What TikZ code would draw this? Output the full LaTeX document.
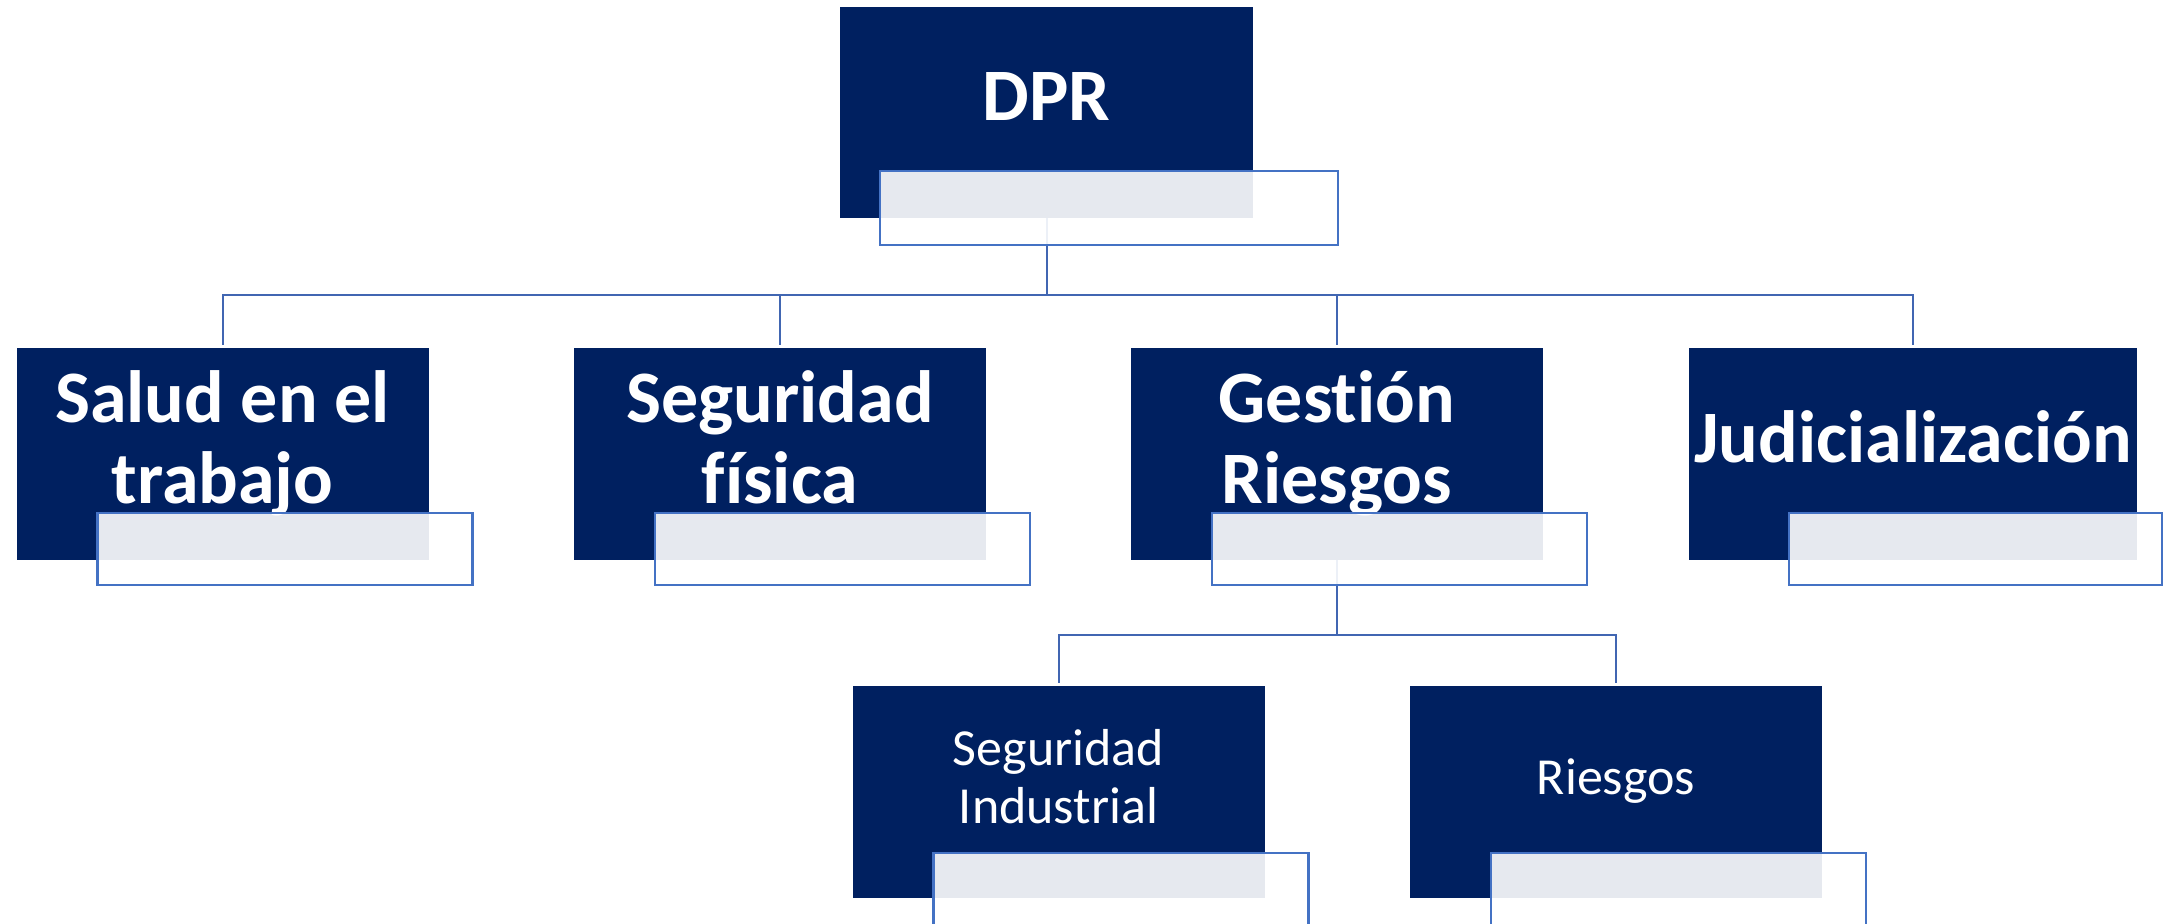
\documentclass[tikz,border=0pt]{standalone}
\usepackage{fontspec}
\setmainfont{Carlito}[Ligatures={NoCommon}]
\definecolor{navy}{HTML}{002060}
\definecolor{boxblue}{HTML}{4472C4}
\definecolor{lineblue}{HTML}{4166B2}
\begin{document}
\begin{tikzpicture}[x=0.5pt,y=-0.5pt,
  darkbox/.style={fill=navy, draw=none, inner sep=0, minimum width=206pt, minimum height=106pt, anchor=center},
  capbox/.style={fill=white, fill opacity=0.9, draw=boxblue, line width=1.25pt, inner sep=0, minimum width=187.5pt, minimum height=36pt},
  conn/.style={draw=lineblue, line width=1pt, shorten >=1.3pt},
  bigtext/.style={text=white, font=\bfseries\fontsize{37}{40.5}\selectfont, inner sep=0, anchor=base},
  smalltext/.style={text=white, font=\fontsize{26}{29}\selectfont, inner sep=0, anchor=base}]
\clip (0,0) rectangle (2174,923);
% dark boxes
\node[darkbox, minimum width=206.5pt, minimum height=105.5pt] (dpr) at (1046.5,112.5) {};
\node[darkbox] (salud) at (222.5,454) {};
\node[darkbox] (segf) at (780,454) {};
\node[darkbox] (gest) at (1337,454) {};
\node[darkbox, minimum width=224pt] (judi) at (1913,454) {};
\node[darkbox] (segi) at (1058.5,792) {};
\node[darkbox] (ries) at (1616,792) {};
% texts
\node[bigtext] (dprt) at (1046.5,120) {DPR};
\node[bigtext] (saludt) at (222.5,503) {\begin{tabular}[b]{@{}c@{}}Salud en el\\trabajo\end{tabular}};
\node[bigtext] (segft) at (780,503) {\begin{tabular}[b]{@{}c@{}}Seguridad\\física\end{tabular}};
\node[bigtext] (gestt) at (1337,503) {\begin{tabular}[b]{@{}c@{}}Gestión\\Riesgos\end{tabular}};
\node[bigtext] (judit) at (1913,462) {Judicialización};
\node[smalltext] (segit) at (1058.5,823) {\begin{tabular}[b]{@{}c@{}}Seguridad\\Industrial\end{tabular}};
\node[smalltext] (riest) at (1616,794) {Riesgos};
% connectors
\coordinate (j1) at (1046.5,295);
\coordinate (j2) at (1337,635);
\draw[conn, shorten >=0pt] (dpr.south) -- (j1);
\draw[conn] (j1) -| (salud.north);
\draw[conn] (j1) -| (segf.north);
\draw[conn] (j1) -| (gest.north);
\draw[conn] (j1) -| (judi.north);
\draw[conn, shorten >=0pt] (gest.south) -- (j2);
\draw[conn] (j2) -| (segi.north);
\draw[conn] (j2) -| (ries.north);
% caption boxes
\node[capbox, minimum width=229pt, minimum height=37pt] (dprc) at (1109,208) {};
\node[capbox] (saludc) at (285,549) {};
\node[capbox] (segfc) at (842.5,549) {};
\node[capbox] (gestc) at (1399.5,549) {};
\node[capbox, minimum width=186.5pt] (judic) at (1975.5,549) {};
\node[capbox, minimum height=37pt] (segic) at (1121,890) {};
\node[capbox, minimum height=37pt] (riesc) at (1678.5,890) {};
\end{tikzpicture}
\end{document}
